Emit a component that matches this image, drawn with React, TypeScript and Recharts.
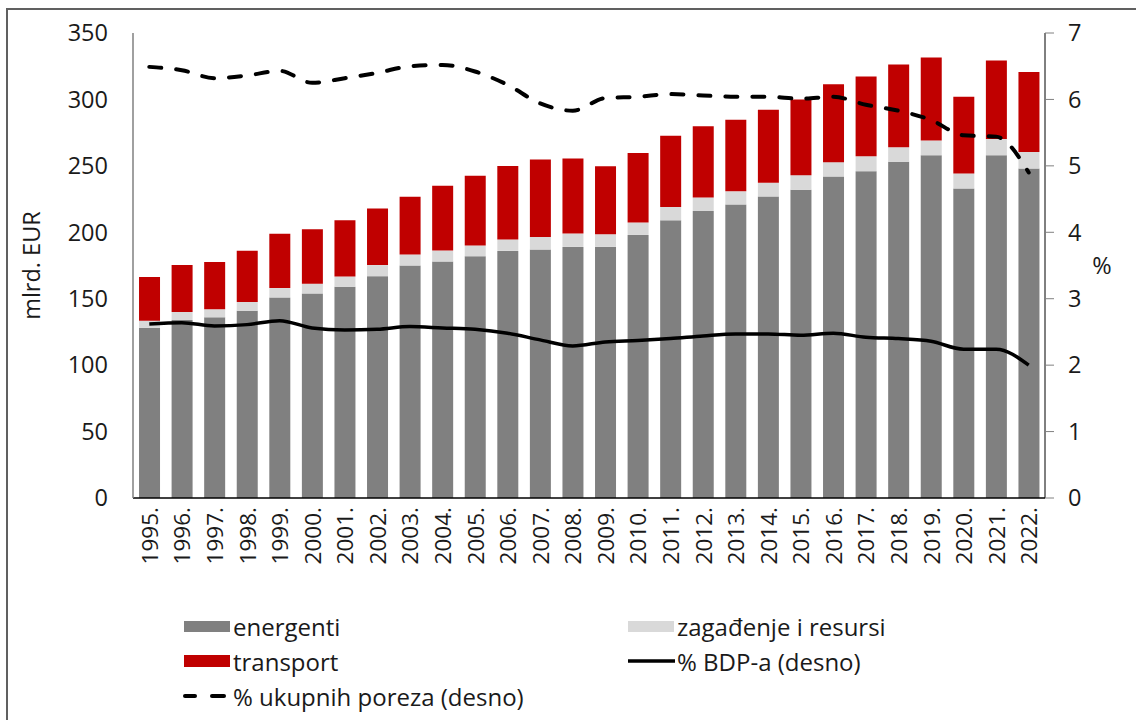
import React from 'react';
import { ComposedChart, Bar, Line, XAxis, YAxis } from 'recharts';

// ── Data ──────────────────────────────────────────────────────────────────────

const years = [
  '1995.', '1996.', '1997.', '1998.', '1999.', '2000.', '2001.', '2002.', '2003.', '2004.',
  '2005.', '2006.', '2007.', '2008.', '2009.', '2010.', '2011.', '2012.', '2013.', '2014.',
  '2015.', '2016.', '2017.', '2018.', '2019.', '2020.', '2021.', '2022.',
];

const energenti = [
  128, 134, 136, 141, 151, 154, 159, 167, 175, 178,
  182, 186, 187, 189, 189, 198, 209, 216, 221, 227,
  232, 242, 246, 253, 258, 233, 258, 248,
];

const zagadjenje = [
  5.5, 6, 6, 6.5, 7, 7.3, 7.8, 8.3, 8.3, 8.2,
  8.1, 8.6, 9.5, 10, 9.5, 9.3, 10, 10.2, 9.8, 10.3,
  11, 10.8, 11.3, 11, 11, 11.3, 12.3, 12.4,
];

const transport = [
  32.8, 35.3, 35.6, 38.6, 40.9, 40.9, 42.2, 42.6, 43.4, 48.9,
  52.4, 55.2, 58.2, 56.5, 51.2, 52.4, 53.7, 53.7, 53.9, 54.9,
  57, 58.7, 59.9, 62.2, 62.5, 57.7, 59, 60.3,
];

const bdpShare = [
  2.62, 2.64, 2.59, 2.61, 2.67, 2.56, 2.53, 2.54, 2.58, 2.56,
  2.54, 2.48, 2.38, 2.29, 2.35, 2.37, 2.4, 2.44, 2.47, 2.47,
  2.45, 2.48, 2.42, 2.4, 2.36, 2.24, 2.24, 2.0,
];

const taxShare = [
  6.49, 6.44, 6.32, 6.36, 6.43, 6.25, 6.32, 6.4, 6.5, 6.52,
  6.42, 6.22, 5.94, 5.83, 6.02, 6.04, 6.08, 6.06, 6.04, 6.04,
  6.01, 6.04, 5.92, 5.83, 5.69, 5.46, 5.44, 4.9,
];

const leftTicks = [0, 50, 100, 150, 200, 250, 300, 350];
const rightTicks = [0, 1, 2, 3, 4, 5, 6, 7];

const data = years.map((year, i) => ({
  year,
  energenti: energenti[i],
  zagadjenje: zagadjenje[i],
  transport: transport[i],
  bdp: bdpShare[i],
  porezi: taxShare[i],
}));

// ── Styles ────────────────────────────────────────────────────────────────────

const FONT = '"Open Sans", Lato, sans-serif';
const TEXT = '#1a1a1a';
const GREY = '#808080';
const LIGHT = '#d9d9d9';
const RED = '#c00000';
const SIZE = 23.5;

// ── Ticks ─────────────────────────────────────────────────────────────────────

function YearTick({ x, y, payload }: { x?: number; y?: number; payload?: { value: string } }) {
  return (
    <text
      transform={`translate(${x},${(y ?? 0) + 1}) rotate(-90)`}
      textAnchor="end"
      dominantBaseline="central"
      fontSize={22.5}
      fontFamily={FONT}
      fill={TEXT}
    >
      {payload?.value}
    </text>
  );
}

// ── Legend ────────────────────────────────────────────────────────────────────

function LegendRow({ top, left, swatch, label }: { top: number; left: number; swatch: React.ReactNode; label: string }) {
  return (
    <div style={{ position: 'absolute', top: top - 16, left, height: 32, display: 'flex', alignItems: 'center' }}>
      <svg width={50} height={30} style={{ display: 'block' }}>{swatch}</svg>
      <span style={{ fontFamily: FONT, fontSize: 24, color: TEXT, marginLeft: 1, whiteSpace: 'nowrap' }}>{label}</span>
    </div>
  );
}

export default function App() {
  return (
    <div style={{ position: 'absolute', left: 0, top: 0, width: 1136, height: 720, overflow: 'hidden', background: '#fff' }}>
      <div style={{ position: 'absolute', left: 6, top: 8, width: 1140, height: 730, border: '2px solid #606060' }} />

      <div style={{ position: 'absolute', left: 0, top: 0 }}>
        <ComposedChart
          width={1136}
          height={720}
          data={data}
          margin={{ top: 33, right: 0, bottom: 162, left: 0 }}
          barCategoryGap="18.5%"
        >
          <XAxis
            dataKey="year"
            xAxisId="x"
            tick={<YearTick />}
            tickLine={false}
            axisLine={{ stroke: '#000', strokeWidth: 1.5 }}
            interval={0}
            height={60}
          />
          <YAxis
            yAxisId="left"
            domain={[0, 350]}
            ticks={leftTicks}
            width={133}
            tickLine={false}
            tickSize={0}
            tickMargin={25}
            axisLine={{ stroke: GREY, strokeWidth: 1.5 }}
            tick={{ fontSize: SIZE, fontFamily: FONT, fill: TEXT }}
            label={{
              value: 'mlrd. EUR',
              angle: -90,
              position: 'insideLeft',
              offset: 32,
              style: { fontSize: SIZE, fontFamily: FONT, fill: TEXT, textAnchor: 'middle' },
            }}
          />
          <YAxis
            yAxisId="right"
            orientation="right"
            domain={[0, 7]}
            ticks={rightTicks}
            width={91}
            tickSize={9}
            tickMargin={14}
            tickLine={{ stroke: GREY }}
            axisLine={{ stroke: '#000', strokeWidth: 1 }}
            tick={{ fontSize: SIZE, fontFamily: FONT, fill: TEXT }}
            label={{
              value: '%',
              position: 'insideRight',
              offset: 34,
              style: { fontSize: SIZE, fontFamily: FONT, fill: TEXT, textAnchor: 'middle' },
            }}
          />
          <Bar xAxisId="x" yAxisId="left" dataKey="energenti" name="energenti" stackId="a" fill={GREY} isAnimationActive={false} />
          <Bar xAxisId="x" yAxisId="left" dataKey="zagadjenje" name="zagađenje i resursi" stackId="a" fill={LIGHT} isAnimationActive={false} />
          <Bar xAxisId="x" yAxisId="left" dataKey="transport" name="transport" stackId="a" fill={RED} isAnimationActive={false} />
          <Line
            xAxisId="x"
            yAxisId="right"
            type="monotone"
            dataKey="bdp"
            name="% BDP-a (desno)"
            stroke="#000"
            strokeWidth={3.5}
            dot={false}
            isAnimationActive={false}
          />
          <Line
            xAxisId="x"
            yAxisId="right"
            type="monotone"
            dataKey="porezi"
            name="% ukupnih poreza (desno)"
            stroke="#000"
            strokeWidth={4}
            strokeDasharray="12 15"
            strokeLinecap="round"
            dot={false}
            isAnimationActive={false}
          />
        </ComposedChart>
      </div>

      <LegendRow top={626} left={182} label="energenti" swatch={<rect x={2} y={10} width={46} height={11} fill={GREY} />} />
      <LegendRow top={661} left={182} label="transport" swatch={<rect x={2} y={9} width={46} height={12} fill={RED} />} />
      <LegendRow
        top={696}
        left={182}
        label="% ukupnih poreza (desno)"
        swatch={
          <g stroke="#000" strokeWidth={4} strokeLinecap="round">
            <line x1={3} y1={15} x2={13} y2={15} />
            <line x1={30} y1={15} x2={42} y2={15} />
          </g>
        }
      />
      <LegendRow top={626} left={626} label="zagađenje i resursi" swatch={<rect x={2} y={10} width={46} height={11} fill={LIGHT} />} />
      <LegendRow
        top={661}
        left={626}
        label="% BDP-a (desno)"
        swatch={<line x1={2} y1={15} x2={49} y2={15} stroke="#000" strokeWidth={3.5} />}
      />
    </div>
  );
}
